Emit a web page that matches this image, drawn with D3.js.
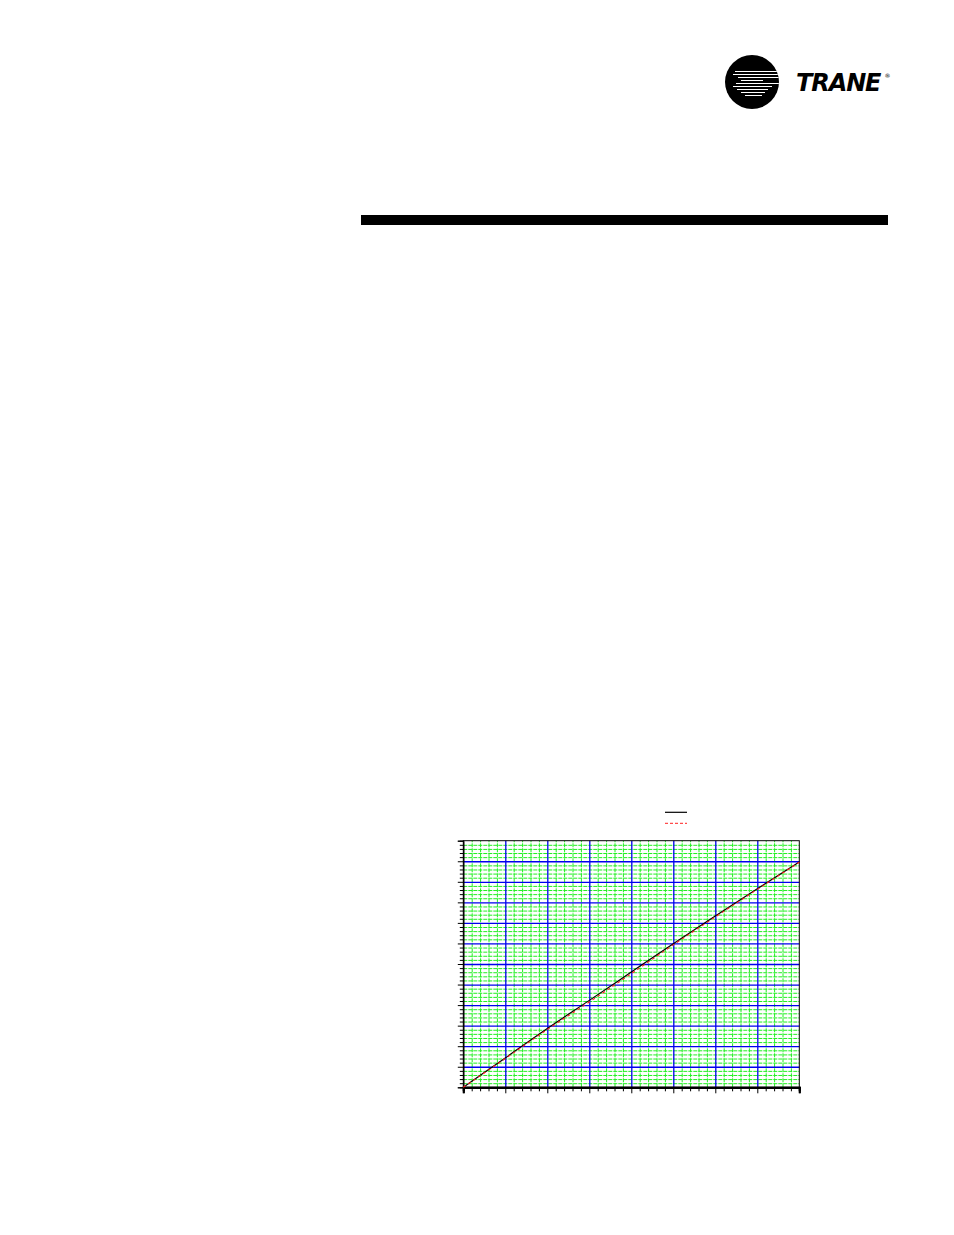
<!DOCTYPE html>
<html>
<head>
<meta charset="utf-8">
<script src="https://cdn.jsdelivr.net/npm/d3@7"></script>
<style>
  html, body { margin: 0; padding: 0; background: #fff; }
  svg { display: block; }
</style>
</head>
<body>
<svg id="page" width="954" height="1235"></svg>
<script>
// ---- data ----
const xValues = [0, 1, 2, 3, 4, 5, 6, 7, 8];
const seriesSolid = [0, 1.43, 2.86, 4.23, 5.61, 6.99, 8.33, 9.66, 10.97];
const seriesDashed = [0, 1.40, 2.81, 4.15, 5.53, 6.93, 8.29, 9.63, 10.95];
const xMajorTicks = [0, 1, 2, 3, 4, 5, 6, 7, 8];
const yMajorTicks = [0, 1, 2, 3, 4, 5, 6, 7, 8, 9, 10, 11, 12];
const minorPerMajor = 5;
const brandName = "TRANE";

const svg = d3.select("#page");

// ---- header: logo and rule ----
const logo = svg.append("g");
const defs = svg.append("defs");
defs.append("clipPath").attr("id", "logoClip")
  .append("circle").attr("cx", 752).attr("cy", 82).attr("r", 27);
logo.append("circle").attr("cx", 752).attr("cy", 82).attr("r", 27).attr("fill", "#000");
const stripes = [
  {y: 71.5, x0: 735, x1: 781}, {y: 74.5, x0: 733, x1: 781}, {y: 77.5, x0: 738, x1: 781},
  {y: 80.5, x0: 741, x1: 763}, {y: 83.5, x0: 736, x1: 781}, {y: 86.5, x0: 733, x1: 772},
  {y: 89.5, x0: 737, x1: 768}, {y: 92.5, x0: 741, x1: 765}, {y: 95.5, x0: 745, x1: 762}
];
const sg = logo.append("g").attr("clip-path", "url(#logoClip)");
stripes.forEach((s, i) => {
  sg.append("line").attr("x1", s.x0).attr("x2", s.x1).attr("y1", s.y).attr("y2", s.y)
    .attr("stroke", "#fff").attr("stroke-width", 1.1);
});
logo.append("text").attr("x", 796).attr("y", 91)
  .attr("font-family", "DejaVu Sans, sans-serif").attr("font-weight", "900")
  .attr("font-style", "italic").attr("font-size", 24).attr("letter-spacing", -1.1)
  .attr("fill", "#000").text(brandName);
logo.append("text").attr("x", 884.5).attr("y", 78)
  .attr("font-family", "DejaVu Sans, sans-serif").attr("font-size", 6)
  .attr("fill", "#000").text("®");

svg.append("rect").attr("x", 361).attr("y", 215).attr("width", 527).attr("height", 10).attr("fill", "#000");

// ---- chart ----
const x = d3.scaleLinear().domain([0, 8]).range([463.3, 799.3]);
const y = d3.scaleLinear().domain([0, 12]).range([1087.3, 840.7]);

const xMinor = d3.range(0, 8 * minorPerMajor + 1).map(i => i / minorPerMajor);
const yMinor = d3.range(0, 12 * minorPerMajor + 1).map(i => i / minorPerMajor);
const xMinorOnly = xMinor.filter(v => Math.abs(v - Math.round(v)) > 1e-9);
const yMinorOnly = yMinor.filter(v => Math.abs(v - Math.round(v)) > 1e-9);

const W = x.range()[1] - x.range()[0];
const H = y.range()[0] - y.range()[1];

// minor grid (green, dashed)
const gMinorX = svg.append("g").attr("transform", `translate(0,${y(0)})`)
  .call(d3.axisBottom(x).tickValues(xMinorOnly).tickSize(-H).tickFormat(""));
const gMinorY = svg.append("g").attr("transform", `translate(${x(0)},0)`)
  .call(d3.axisLeft(y).tickValues(yMinorOnly).tickSize(-W).tickFormat(""));
[gMinorX, gMinorY].forEach(g => {
  g.select(".domain").remove();
  g.selectAll(".tick line").attr("stroke", "#22ee22").attr("stroke-width", 1)
    .attr("stroke-dasharray", "4,1");
});

// major grid (blue)
const gMajX = svg.append("g").attr("transform", `translate(0,${y(0)})`)
  .call(d3.axisBottom(x).tickValues(xMajorTicks.slice(1, -1)).tickSize(-H).tickFormat(""));
const gMajY = svg.append("g").attr("transform", `translate(${x(0)},0)`)
  .call(d3.axisLeft(y).tickValues(yMajorTicks.slice(1, -1)).tickSize(-W).tickFormat(""));
[gMajX, gMajY].forEach(g => {
  g.select(".domain").remove();
  g.selectAll(".tick line").attr("stroke", "#0000ee").attr("stroke-width", 1.3);
});

// frame
svg.append("rect").attr("x", x(0)).attr("y", y(12)).attr("width", W).attr("height", H)
  .attr("fill", "none").attr("stroke", "#000").attr("stroke-width", 1);

// left axis ticks
const gLeftMinor = svg.append("g").attr("transform", `translate(${x(0)},0)`)
  .call(d3.axisLeft(y).tickValues(yMinorOnly).tickSize(3.5).tickFormat(""));
const gLeftMajor = svg.append("g").attr("transform", `translate(${x(0)},0)`)
  .call(d3.axisLeft(y).tickValues(yMajorTicks).tickSize(5.5).tickFormat(""));
[gLeftMinor, gLeftMajor].forEach(g => {
  g.select(".domain").attr("stroke", "#000");
  g.selectAll(".tick line").attr("stroke", "#000").attr("stroke-width", 1);
});

// bottom axis ticks
const gBotMinor = svg.append("g").attr("transform", `translate(0,${y(0)})`)
  .call(d3.axisBottom(x).tickValues(xMinorOnly).tickSize(4).tickFormat(""));
const gBotMajor = svg.append("g").attr("transform", `translate(0,${y(0)})`)
  .call(d3.axisBottom(x).tickValues(xMajorTicks).tickSize(6).tickFormat(""));
[gBotMinor, gBotMajor].forEach(g => {
  g.select(".domain").attr("stroke", "#000").attr("stroke-width", 2.2);
  g.selectAll(".tick line").attr("stroke", "#000").attr("stroke-width", 1);
});

// series
const line = d3.line().x(d => x(d[0])).y(d => y(d[1])).curve(d3.curveMonotoneX);
svg.append("path").datum(xValues.map((v, i) => [v, seriesSolid[i]]))
  .attr("d", line).attr("fill", "none").attr("stroke", "#000").attr("stroke-width", 1.2);
svg.append("path").datum(xValues.map((v, i) => [v, seriesDashed[i]]))
  .attr("d", line).attr("fill", "none").attr("stroke", "#ff2020").attr("stroke-width", 1.1)
  .attr("stroke-dasharray", "3,3");

// legend
const legend = svg.append("g");
legend.append("line").attr("x1", 665).attr("x2", 687).attr("y1", 812.3).attr("y2", 812.3)
  .attr("stroke", "#000").attr("stroke-width", 1.2);
legend.append("line").attr("x1", 665).attr("x2", 687).attr("y1", 823.3).attr("y2", 823.3)
  .attr("stroke", "#ff2020").attr("stroke-width", 1).attr("stroke-dasharray", "3,2");
</script>
</body>
</html>
